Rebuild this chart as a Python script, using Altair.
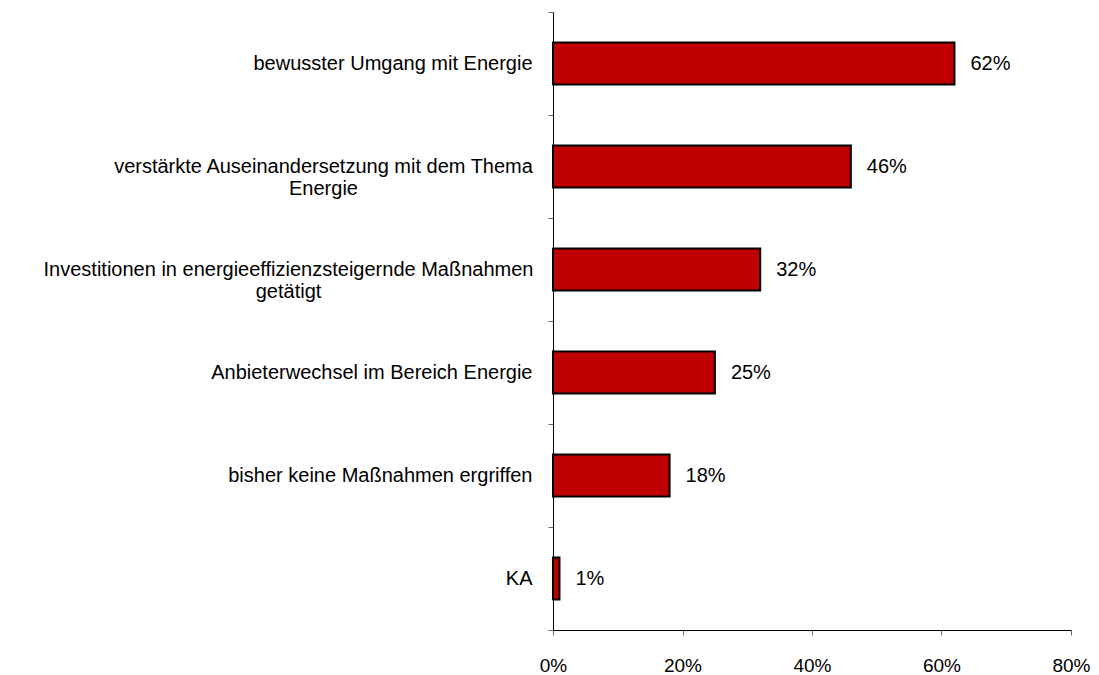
import altair as alt
import pandas as pd

categories = [
    "bewusster Umgang mit Energie",
    "verstärkte Auseinandersetzung mit dem Thema|Energie",
    "Investitionen in energieeffizienzsteigernde Maßnahmen|getätigt",
    "Anbieterwechsel im Bereich Energie",
    "bisher keine Maßnahmen ergriffen",
    "KA",
]
values = [0.62, 0.46, 0.32, 0.25, 0.18, 0.01]
x_ticks = [0, 0.2, 0.4, 0.6, 0.8]

df = pd.DataFrame({"cat": categories, "value": values})

FONT = "Liberation Sans"
FS = 20
PAD = 16
# two-line labels are centred on their longest line (half widths of first line)
half_widths = {"Thema": 209, "Investitionen": 244}

label_align = {
    "condition": {"test": "indexof(datum.label, '|') >= 0", "value": "center"},
    "value": "right",
}
label_padding = {
    "condition": [
        {"test": f"indexof(datum.label, '{k}') >= 0", "value": PAD + v}
        for k, v in half_widths.items()
    ],
    "value": PAD,
}

y_enc = alt.Y(
    "cat:N",
    sort=categories,
    title=None,
    scale=alt.Scale(paddingInner=0, paddingOuter=0),
    axis=alt.Axis(
        labelExpr="split(datum.label, '|')",
        labelLimit=800,
        labelFont=FONT,
        labelFontSize=FS,
        labelColor="black",
        labelLineHeight=22,
        labelAlign=label_align,
        labelPadding=label_padding,
        tickSize=5,
        tickBand="extent",
        tickColor="#666666",
        domainColor="black",
        domainWidth=1,
    ),
)

x_enc = alt.X(
    "value:Q",
    title=None,
    scale=alt.Scale(domain=[0, 0.8], nice=False),
    axis=alt.Axis(
        values=x_ticks,
        format=".0%",
        labelFont=FONT,
        labelFontSize=19,
        labelColor="black",
        labelFlush=False,
        labelPadding=21,
        tickSize=5,
        tickColor="#666666",
        domainColor="black",
        domainWidth=1,
        grid=False,
    ),
)

bars = alt.Chart(df).mark_bar(
    color="#C00000",
    stroke="black",
    strokeWidth=2,
    height=alt.RelativeBandSize(band=0.41),
).encode(x=x_enc, y=y_enc)

labels = alt.Chart(df).mark_text(
    align="left", baseline="middle", dx=16, font=FONT, fontSize=FS, color="black"
).encode(
    x="value:Q",
    y=alt.Y("cat:N", sort=categories),
    text=alt.Text("value:Q", format=".0%"),
)

chart = (
    alt.layer(bars, labels)
    .properties(
        width=518,
        height=618,
        autosize=alt.AutoSizeParams(type="none"),
        padding={"left": 545, "top": 4, "right": 20, "bottom": 45},
    )
    .configure_view(stroke=None)
)

chart.save("out.html", embed_options={"renderer": "svg", "actions": False})
